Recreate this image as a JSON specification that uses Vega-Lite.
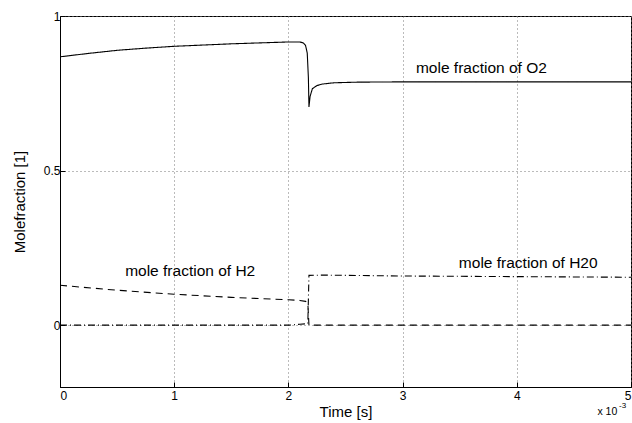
{
  "$schema": "https://vega.github.io/schema/vega-lite/v6.json",
  "autosize": {"type": "none"},
  "width": 571,
  "height": 371,
  "padding": {"left": 60, "top": 16, "right": 1, "bottom": 36},
  "background": "white",
  "config": {
    "font": "Liberation Sans",
    "view": {"stroke": "black", "strokeWidth": 1},
    "axis": {
      "domainColor": "black",
      "tickColor": "black",
      "labelColor": "black",
      "titleColor": "black",
      "labelFont": "Liberation Sans",
      "titleFont": "Liberation Sans",
      "labelFontSize": 12,
      "titleFontSize": 15,
      "titleFontWeight": "normal",
      "gridColor": "#777777",
      "gridDash": [1, 3],
      "gridWidth": 1,
      "tickSize": -5
    }
  },
  "datasets": {
    "series": [
      {"species": "O2", "t": 0, "v": 0.868},
      {"species": "O2", "t": 0.25, "v": 0.879},
      {"species": "O2", "t": 0.5, "v": 0.889},
      {"species": "O2", "t": 0.75, "v": 0.896},
      {"species": "O2", "t": 1, "v": 0.902},
      {"species": "O2", "t": 1.25, "v": 0.906},
      {"species": "O2", "t": 1.5, "v": 0.91},
      {"species": "O2", "t": 1.75, "v": 0.913},
      {"species": "O2", "t": 2, "v": 0.916},
      {"species": "O2", "t": 2.1, "v": 0.916},
      {"species": "O2", "t": 2.13, "v": 0.913},
      {"species": "O2", "t": 2.15, "v": 0.905},
      {"species": "O2", "t": 2.165, "v": 0.88},
      {"species": "O2", "t": 2.175, "v": 0.8},
      {"species": "O2", "t": 2.18, "v": 0.706},
      {"species": "O2", "t": 2.19, "v": 0.74},
      {"species": "O2", "t": 2.21, "v": 0.765},
      {"species": "O2", "t": 2.25, "v": 0.775},
      {"species": "O2", "t": 2.3, "v": 0.78},
      {"species": "O2", "t": 2.4, "v": 0.784},
      {"species": "O2", "t": 2.6, "v": 0.786},
      {"species": "O2", "t": 3, "v": 0.787},
      {"species": "O2", "t": 4, "v": 0.787},
      {"species": "O2", "t": 5, "v": 0.787},
      {"species": "H2", "t": 0, "v": 0.129},
      {"species": "H2", "t": 0.5, "v": 0.113},
      {"species": "H2", "t": 1, "v": 0.1},
      {"species": "H2", "t": 1.5, "v": 0.09},
      {"species": "H2", "t": 2, "v": 0.082},
      {"species": "H2", "t": 2.1, "v": 0.08},
      {"species": "H2", "t": 2.15, "v": 0.077},
      {"species": "H2", "t": 2.17, "v": 0.072},
      {"species": "H2", "t": 2.18, "v": 0.0},
      {"species": "H2", "t": 2.2, "v": 0.0},
      {"species": "H2", "t": 5, "v": 0.0},
      {"species": "H2O", "t": 0, "v": 0.0},
      {"species": "H2O", "t": 2, "v": 0.0},
      {"species": "H2O", "t": 2.1, "v": 0.003},
      {"species": "H2O", "t": 2.17, "v": 0.005},
      {"species": "H2O", "t": 2.18, "v": 0.161},
      {"species": "H2O", "t": 2.3, "v": 0.162},
      {"species": "H2O", "t": 3, "v": 0.159},
      {"species": "H2O", "t": 4, "v": 0.157},
      {"species": "H2O", "t": 5, "v": 0.155}
    ],
    "labels": [
      {"text": "mole fraction of O2", "t": 3.69, "v": 0.832},
      {"text": "mole fraction of H2", "t": 1.14, "v": 0.174},
      {"text": "mole fraction of H20", "t": 4.1, "v": 0.2}
    ],
    "expbase": [
      {"text": "x 10", "t": 4.88, "v": -0.28}
    ],
    "expsup": [
      {"text": "-3", "t": 4.895, "v": -0.262}
    ]
  },
  "layer": [
    {
      "data": {"name": "series"},
      "mark": {"type": "line", "color": "black", "strokeWidth": 1.1, "clip": true},
      "encoding": {
        "x": {
          "field": "t", "type": "quantitative",
          "scale": {"domain": [0, 5], "nice": false, "zero": false},
          "axis": {"title": "Time [s]", "values": [0, 1, 2, 3, 4, 5], "format": "d", "grid": true, "labelPadding": 8, "titlePadding": 3}
        },
        "y": {
          "field": "v", "type": "quantitative",
          "scale": {"domain": [-0.2, 1], "nice": false, "zero": false},
          "axis": {"title": "Molefraction [1]", "values": [0, 0.5, 1], "format": "~g", "grid": true, "labelPadding": 5, "titlePadding": 16}
        },
        "strokeDash": {
          "field": "species", "type": "nominal",
          "scale": {"domain": ["O2", "H2", "H2O"], "range": [[1, 0], [7, 5], [7, 3, 1, 3]]},
          "legend": null
        },
        "detail": {"field": "species"}
      }
    },
    {
      "data": {"name": "labels"},
      "mark": {"type": "text", "font": "Liberation Sans", "fontSize": 15.5, "color": "black", "align": "center", "baseline": "middle"},
      "encoding": {
        "x": {"field": "t", "type": "quantitative"},
        "y": {"field": "v", "type": "quantitative"},
        "text": {"field": "text"}
      }
    },
    {
      "data": {"name": "expbase"},
      "mark": {"type": "text", "font": "Liberation Sans", "fontSize": 10.5, "color": "black", "align": "right", "baseline": "middle", "clip": false},
      "encoding": {
        "x": {"field": "t", "type": "quantitative"},
        "y": {"field": "v", "type": "quantitative"},
        "text": {"field": "text"}
      }
    },
    {
      "data": {"name": "expsup"},
      "mark": {"type": "text", "font": "Liberation Sans", "fontSize": 8, "color": "black", "align": "left", "baseline": "middle", "clip": false},
      "encoding": {
        "x": {"field": "t", "type": "quantitative"},
        "y": {"field": "v", "type": "quantitative"},
        "text": {"field": "text"}
      }
    }
  ]
}
